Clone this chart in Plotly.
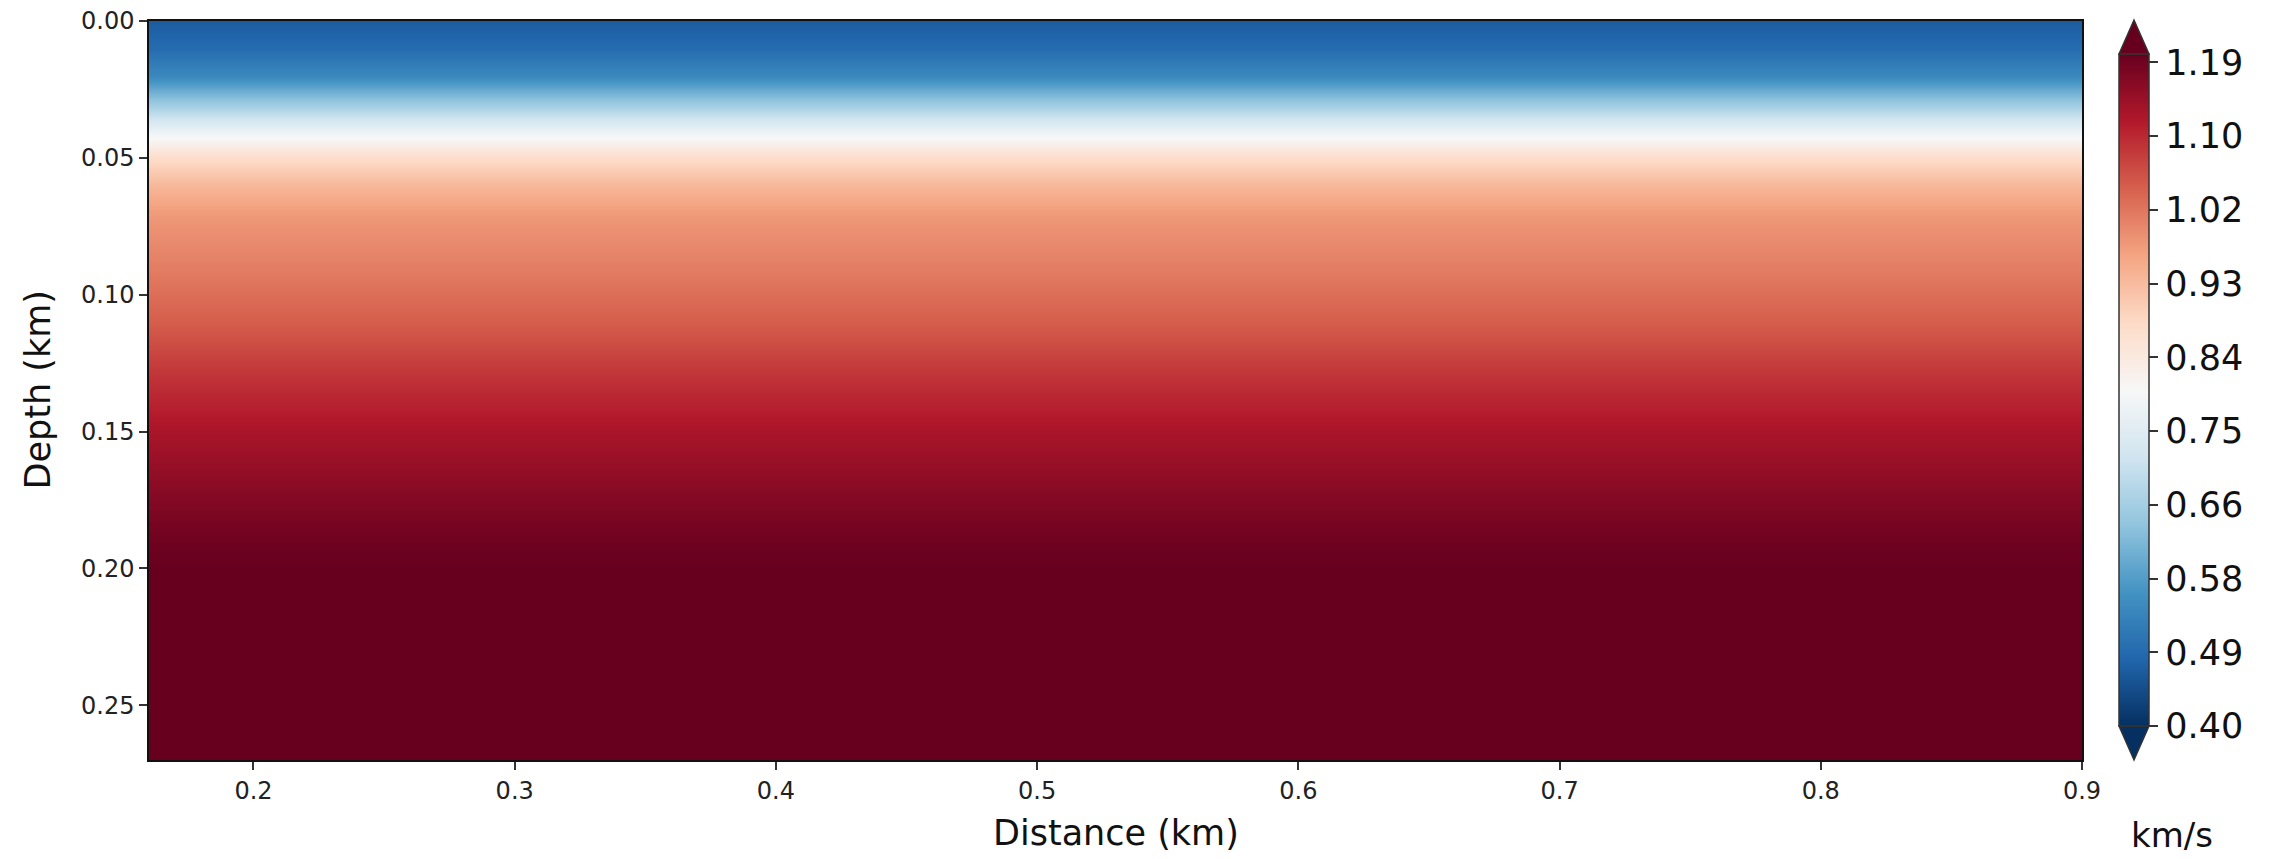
import numpy as np
import plotly.graph_objects as go

# ---- data ----
depth_km = [0.00, 0.01, 0.02, 0.03, 0.04, 0.05, 0.06, 0.07, 0.08, 0.09,
            0.10, 0.11, 0.12, 0.13, 0.14, 0.15, 0.16, 0.17, 0.18, 0.19,
            0.20, 0.21, 0.22, 0.23, 0.24, 0.25, 0.26, 0.27]
velocity_kms = [0.465, 0.490, 0.540, 0.650, 0.770, 0.875, 0.932, 0.972, 0.990, 1.006,
                1.024, 1.042, 1.066, 1.090, 1.108, 1.130, 1.146, 1.162, 1.178, 1.192,
                1.200, 1.210, 1.215, 1.220, 1.220, 1.220, 1.220, 1.220]
distance_edges_km = [0.16, 0.9]
x_ticks = [0.2, 0.3, 0.4, 0.5, 0.6, 0.7, 0.8, 0.9]
cbar_tick_text = ["0.40", "0.49", "0.58", "0.66", "0.75", "0.84", "0.93", "1.02", "1.10", "1.19"]
vmin, vmax = 0.40, 1.20

rdbu_r = ['rgb(5,48,97)', 'rgb(33,102,172)', 'rgb(67,147,195)', 'rgb(146,197,222)',
          'rgb(209,229,240)', 'rgb(247,247,247)', 'rgb(253,219,199)', 'rgb(244,165,130)',
          'rgb(214,96,77)', 'rgb(178,24,43)', 'rgb(103,0,31)']
colorscale = [[i / (len(rdbu_r) - 1), c] for i, c in enumerate(rdbu_r)]

# ---- layout geometry (page pixels; the page body adds an 8px offset) ----
OFF = 8
W, H = 2279 - OFF, 859 - OFF
L, R, T, B = 149, 2082, 21, 760   # plot area in page pixels


def px(xp):
    return (xp - L) / (R - L)


def py(yp):
    return (B - yp) / (B - T)


z = [[v] for v in velocity_kms]

cb_left, cb_w = 2119, 30
cb_top, cb_bot = 54, 726
tick_vals = list(np.linspace(0.40, 1.19, len(cbar_tick_text)))

fig = go.Figure(go.Heatmap(
    x=distance_edges_km, y=depth_km, z=z,
    zmin=vmin, zmax=vmax, colorscale=colorscale, zsmooth='best',
    colorbar=dict(
        x=px(cb_left), xanchor='left', xpad=0, ypad=0,
        y=py((cb_top + cb_bot) / 2), yanchor='middle',
        lenmode='pixels', len=cb_bot - cb_top, thickness=cb_w,
        outlinecolor='#333333', outlinewidth=1.5,
        tickvals=tick_vals, ticktext=cbar_tick_text,
        ticks='outside', ticklen=9, tickcolor='#333333', tickwidth=1.5,
        tickfont=dict(family='DejaVu Sans', size=35, color='#111111'),
    ),
))

# extension triangles of the colorbar
cx = cb_left + cb_w / 2
fig.add_shape(type='path', xref='paper', yref='paper',
              path=f"M {px(cb_left)},{py(cb_top)} L {px(cx)},{py(20)} L {px(cb_left + cb_w)},{py(cb_top)} Z",
              fillcolor=rdbu_r[-1], line=dict(color='#333333', width=1.5))
fig.add_shape(type='path', xref='paper', yref='paper',
              path=f"M {px(cb_left)},{py(cb_bot)} L {px(cx)},{py(760)} L {px(cb_left + cb_w)},{py(cb_bot)} Z",
              fillcolor=rdbu_r[0], line=dict(color='#333333', width=1.5))

axis_font = dict(family='DejaVu Sans', size=24, color='#222222')
fig.update_xaxes(range=[0.16, 0.9], tickvals=x_ticks, tickformat='.1f',
                 showline=True, mirror=True, linecolor='#111111', linewidth=1.5,
                 ticks='outside', ticklen=8, tickwidth=1.5, tickcolor='#333333',
                 ticklabeloverflow='allow', automargin=False,
                 showgrid=False, zeroline=False, tickfont=axis_font)
fig.update_yaxes(range=[0.27, 0.0], dtick=0.05, tick0=0, tickformat='.2f',
                 showline=True, mirror=True, linecolor='#111111', linewidth=1.5,
                 ticks='outside', ticklen=8, tickwidth=1.5, tickcolor='#333333',
                 ticklabeloverflow='allow', automargin=False,
                 showgrid=False, zeroline=False, tickfont=axis_font)

title_font = dict(family='DejaVu Sans', size=35, color='#111111')
fig.add_annotation(text='Distance (km)', xref='paper', yref='paper',
                   x=0.5, y=py(833), xanchor='center', yanchor='middle',
                   showarrow=False, font=title_font)
fig.add_annotation(text='Depth (km)', xref='paper', yref='paper',
                   x=px(37), y=0.5, xanchor='center', yanchor='middle',
                   textangle=-90, showarrow=False, font=title_font)
fig.add_annotation(text='km/s', xref='paper', yref='paper',
                   x=px(2172), y=py(835), xanchor='center', yanchor='middle',
                   showarrow=False, font=dict(family='DejaVu Sans', size=34, color='#111111'))

fig.update_layout(width=W, height=H, autosize=False,
                  margin=dict(l=L - OFF, r=(W + OFF) - R, t=T - OFF, b=(H + OFF) - B, pad=0,
                              autoexpand=False),
                  paper_bgcolor='white', plot_bgcolor='white', showlegend=False)

fig.write_html("out.html")
